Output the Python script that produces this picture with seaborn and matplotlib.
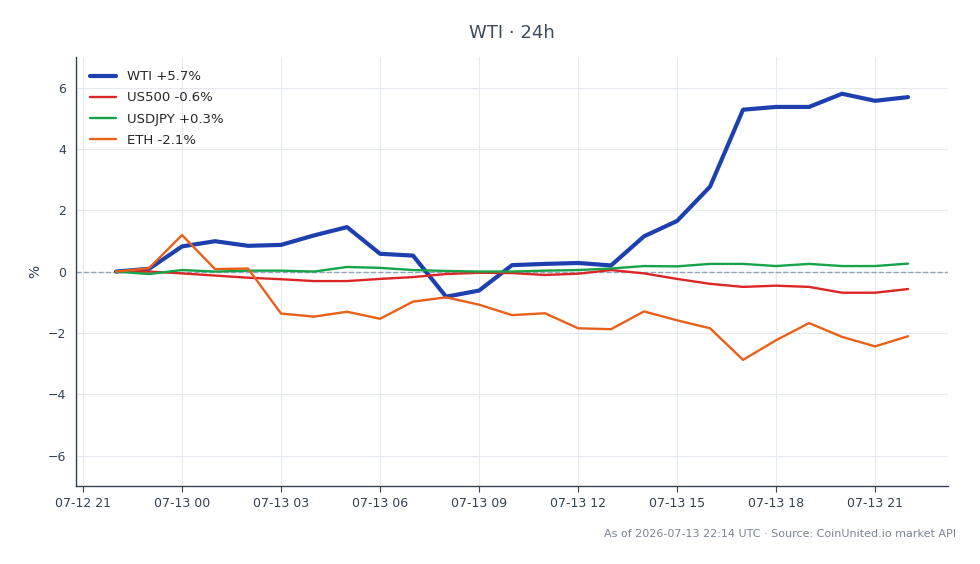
import pandas as pd
import numpy as np
import seaborn as sns
import matplotlib.dates as mdates
from matplotlib import pyplot as plt

# hourly % change, 07-12 22:00 -> 07-13 22:00 UTC
start = "2026-07-12 22:00"
wti = [0.0, 0.09, 0.82, 0.99, 0.84, 0.87, 1.18, 1.45, 0.58, 0.52, -0.82, -0.62, 0.21,
       0.25, 0.28, 0.2, 1.15, 1.65, 2.77, 5.28, 5.37, 5.37, 5.8, 5.57, 5.69]
us500 = [0.0, 0.0, -0.06, -0.13, -0.2, -0.25, -0.31, -0.31, -0.24, -0.18, -0.08, -0.04, -0.05,
         -0.11, -0.07, 0.05, -0.06, -0.24, -0.4, -0.5, -0.46, -0.5, -0.69, -0.69, -0.57]
usdjpy = [0.0, -0.08, 0.05, 0.0, 0.03, 0.03, 0.0, 0.15, 0.12, 0.05, 0.02, 0.0, 0.0,
          0.03, 0.05, 0.1, 0.18, 0.17, 0.25, 0.25, 0.18, 0.25, 0.18, 0.18, 0.26]
eth = [0.0, 0.11, 1.19, 0.08, 0.1, -1.37, -1.47, -1.31, -1.54, -0.98, -0.84, -1.08, -1.42,
       -1.36, -1.85, -1.88, -1.3, -1.59, -1.85, -2.88, -2.24, -1.68, -2.13, -2.44, -2.11]
labels = ["WTI +5.7%", "US500 -0.6%", "USDJPY +0.3%", "ETH -2.1%"]
colors = ["#1e40af", "#dc2626", "#16a34a", "#e8601a"]
widths = [3.0, 1.7, 1.7, 1.7]

times = pd.date_range(start, periods=len(wti), freq="h")
series = [wti, us500, usdjpy, eth]

sns.set_style("white")
plt.rcParams['font.family'] = ['DejaVu Sans']

fig, ax = plt.subplots(figsize=(9.8, 5.64), dpi=100)
fig.subplots_adjust(left=0.078, right=0.967, top=0.899, bottom=0.138)

ax.grid(True, color="#e5e9f0", linewidth=0.8)
ax.set_axisbelow(True)
ax.axhline(0, color="#94a3b8", linestyle="--", linewidth=1, zorder=1)

for vals, lab, col, lw in zip(series, labels, colors, widths):
    df = pd.DataFrame({"t": times, "v": vals})
    sns.lineplot(data=df, x="t", y="v", color=col, linewidth=lw, label=lab, ax=ax)

ax.set_ylim(-7, 7)
ax.set_yticks([-6, -4, -2, 0, 2, 4, 6])
ax.xaxis.set_major_locator(mdates.HourLocator(byhour=range(0, 24, 3)))
ax.xaxis.set_major_formatter(mdates.DateFormatter("%m-%d %H"))
ax.set_xlabel("")
ax.set_ylabel("%", color="#334155", fontsize=10)
ax.tick_params(colors="#334155", labelsize=9, length=4, width=0.8, left=False, bottom=True)
for s in ["top", "right"]:
    ax.spines[s].set_visible(False)
for s in ["left", "bottom"]:
    ax.spines[s].set_color("#334155")
    ax.spines[s].set_linewidth(1)

ax.set_title("WTI · 24h", color="#3d4a5c", fontsize=13, pad=14)
leg = ax.legend(loc="upper left", frameon=False, fontsize=9.5, labelspacing=0.62,
                borderaxespad=0.6)

fig.text(0.976, 0.053, "As of 2026-07-13 22:14 UTC · Source: CoinUnited.io market API",
         ha="right", va="center", fontsize=8, color="#7b8494")

plt.savefig("out.png", dpi=100)
